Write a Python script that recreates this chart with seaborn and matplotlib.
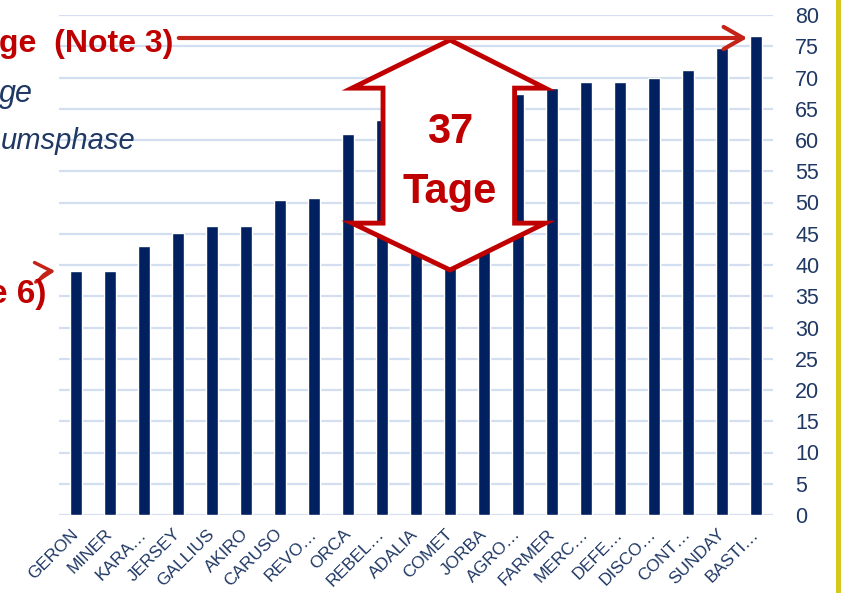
import matplotlib
matplotlib.use("Agg")
import matplotlib.pyplot as plt
import seaborn as sns
import pandas as pd
from matplotlib.patches import Polygon, Rectangle

# data
varieties = ["GERON", "MINER", "KARA…", "JERSEY", "GALLIUS", "AKIRO", "CARUSO",
             "REVO…", "ORCA", "REBEL…", "ADALIA", "COMET", "JORBA", "AGRO…",
             "FARMER", "MERC…", "DEFE…", "DISCO…", "CONT…", "SUNDAY", "BASTI…"]
days = [39, 39, 43, 45.2, 46.2, 46.2, 50.4, 50.7, 61.0, 63.2, 64, 65, 66, 67.4,
        68.3, 69.3, 69.3, 69.9, 71.2, 74.7, 76.6]
y_ticks = list(range(0, 85, 5))

df = pd.DataFrame({"sorte": varieties, "tage": days})

W, H = 841, 593
NAVY = "#002060"
TXT = "#1F3864"
RED = "#C00000"
ARROW_RED = "#C42418"
GRID = "#D3DEF1"

sns.set_theme(style="white")
plt.rcParams["font.family"] = ["Liberation Sans", "DejaVu Sans"]

fig = plt.figure(figsize=(W / 100, H / 100), dpi=100)
ax = fig.add_axes([59 / W, 1 - 515 / H, 714 / W, 500 / H])

sns.barplot(data=df, x="sorte", y="tage", color=NAVY, saturation=1,
            width=0.35, ax=ax, zorder=3)

ax.set_ylim(0, 80)
ax.set_xlim(-0.5, len(varieties) - 0.5)
ax.set_yticks(y_ticks)
ax.yaxis.tick_right()
ax.grid(axis="y", color=GRID, lw=1.6, zorder=0)
ax.set_axisbelow(True)
for s in ax.spines.values():
    s.set_visible(False)
ax.set_xlabel("")
ax.set_ylabel("")
ax.tick_params(axis="y", length=0, pad=16, labelsize=15.5, labelcolor=TXT)
ax.tick_params(axis="x", length=0, pad=12, labelsize=12.5, labelcolor=TXT)
for lab in ax.get_xticklabels():
    lab.set_rotation(45)
    lab.set_ha("right")
    lab.set_va("center")
    lab.set_rotation_mode("anchor")

# double headed block arrow with "37 Tage"
arrow_pts = [(11, 76.0), (13.8, 68.3), (12.9, 68.3), (12.9, 46.7), (13.8, 46.7),
             (11, 39.2), (8.12, 46.7), (9.03, 46.7), (9.03, 68.3), (8.12, 68.3)]
ax.add_patch(Polygon(arrow_pts, closed=True, facecolor="white",
                     edgecolor=RED, lw=3.5, zorder=5, joinstyle="miter"))
ax.text(11, 59.5, "37", ha="center", va="baseline", color=RED,
        fontsize=30, fontweight="bold", zorder=6)
ax.text(11, 49.9, "Tage", ha="center", va="baseline", color=RED,
        fontsize=30, fontweight="bold", zorder=6)

def fp(x, y):
    return (x, H - y)

# cut-off annotations on the left
fig.text(173 / W, 1 - 52 / H, "ge  (Note 3)", ha="right", va="baseline",
         color=RED, fontsize=23, fontweight="bold")
fig.text(33 / W, 1 - 102 / H, "ge", ha="right", va="baseline",
         color=TXT, fontsize=22, style="italic")
fig.text(136 / W, 1 - 149 / H, "umsphase", ha="right", va="baseline",
         color=TXT, fontsize=21, style="italic")
fig.text(46 / W, 1 - 303 / H, "e 6)", ha="right", va="baseline",
         color=RED, fontsize=24, fontweight="bold")

ax.annotate("", xy=fp(750, 38), xytext=fp(176, 38),
            xycoords="figure pixels", textcoords="figure pixels",
            arrowprops=dict(arrowstyle="->,head_length=0.7,head_width=0.4",
                            color=ARROW_RED, lw=3, mutation_scale=20),
            annotation_clip=False, zorder=7)
ax.annotate("", xy=fp(58, 271), xytext=fp(38, 282),
            xycoords="figure pixels", textcoords="figure pixels",
            arrowprops=dict(arrowstyle="->,head_length=0.6,head_width=0.35",
                            color=ARROW_RED, lw=2.5, mutation_scale=20,
                            connectionstyle="arc3,rad=-0.3"),
            annotation_clip=False, zorder=7)

# yellow frame line on the right edge
fig.add_artist(Rectangle((836 / W, 0), 5 / W, 1, transform=fig.transFigure,
                         facecolor="#D4C81E", edgecolor="none"))

fig.savefig("out.png", dpi=100)
